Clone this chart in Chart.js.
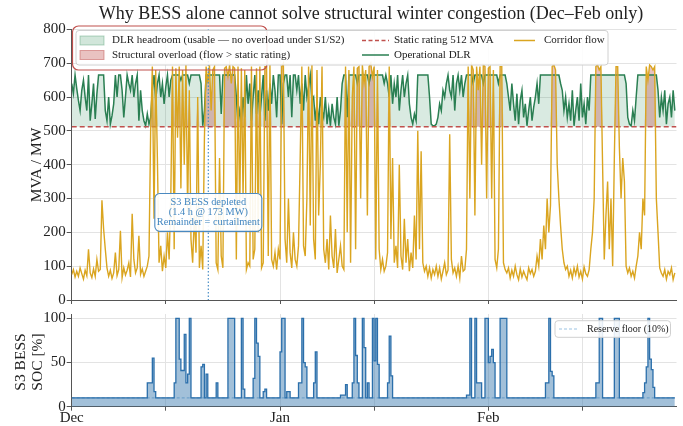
<!DOCTYPE html>
<html>
<head>
<title>BESS winter congestion</title>
<script src="https://cdn.jsdelivr.net/npm/chart.js"></script>
<style>
  body { margin: 0; background: #fff; }
  #wrap { position: relative; width: 683px; height: 426px; }
  #flowChart { position: absolute; left: 0; top: 0; }
  #socChart { position: absolute; left: 0; top: 304px; }
</style>
</head>
<body>
<div id="wrap">
  <canvas id="flowChart" width="683" height="310"></canvas>
  <canvas id="socChart" width="683" height="122"></canvas>
</div>
<script>
// one sample every 6 h, 1 Dec -> 28 Feb (x axis in days since 1 Dec)
var stepHours = 6;
var monthTicks = [0, 31, 62];
var monthLabels = ['Dec', 'Jan', 'Feb'];
var midMonthTicks = [14, 45, 76];
var staticRating = 512;   // MVA
var reserveFloor = 10;    // %
var depletedDay = 20.33;  // S3 BESS depleted marker

// corridor flow, MVA (4 values per day)
var corridorFlow = [
  75, 90, 68, 85,   70, 95, 78, 62,   88, 72, 150, 80,   66, 92, 70, 120,
  85, 90, 295, 210, 150, 95, 70, 88,  64, 80, 140, 72,   90, 205, 66, 95,
  74, 88, 110, 68,  255, 120, 80, 95, 190, 76, 92, 70,   85, 100, 130, 500,
  690, 240, 680, 420, 110, 160, 85, 130, 95, 200, 120, 310, 690, 150, 685, 480,
  690, 330, 680, 400, 695, 260, 620, 180, 110, 250, 140, 600, 95, 160, 90, 480,
  690, 640, 695, 560, 680, 690, 110, 90, 420, 130, 95, 685, 690, 660, 695, 640,
  690, 685, 120, 690, 250, 685, 300, 680, 90, 110, 100, 690, 120, 150, 685, 200,
  690, 95, 110, 690, 690, 130, 695, 120, 100, 140, 90, 150, 120, 690, 700, 180,
  110, 300, 140, 95, 200, 120, 100, 160, 420, 690, 160, 130, 300, 690, 220, 695,
  180, 120, 680, 250, 400, 690, 150, 110, 180, 90, 250, 130, 95, 210, 80, 120,
  160, 100, 90, 690, 200, 680, 110, 600, 690, 150, 685, 690, 300, 695, 640, 680,
  250, 690, 700, 660, 690, 120, 680, 150, 90, 120, 85, 100, 140, 690, 180, 420,
  110, 160, 95, 400, 130, 90, 240, 110, 180, 85, 140, 95, 250, 120, 500, 150,
  440, 110, 85, 100, 70, 95, 65, 90,  75, 100, 70, 95,   62, 85, 110, 75,
  88, 490, 120, 80, 95, 70, 100, 65,  130, 85, 90, 150,  690, 300, 695, 680,
  250, 690, 620, 690, 400, 695, 690, 300, 685, 690, 300, 680, 120, 95, 150, 690,
  690, 110, 90, 80, 95, 65, 88, 70,   100, 75, 60, 92,   68, 85, 72, 60,
  95, 78, 90, 70,   85, 130, 100, 180, 120, 220, 150, 300, 200, 280, 690, 695,
  680, 400, 300, 220, 150, 110, 90, 100, 70, 88, 65, 95, 75, 100, 68, 85,
  62, 98, 78, 70,   90, 150, 200, 300, 690, 695, 680, 690, 400, 120, 250, 350,
  150, 300, 100, 420, 690, 690, 450, 300, 420, 350, 100, 80, 95, 70, 85, 65,
  100, 130, 200, 150, 300, 250, 690, 650, 695, 690, 680, 690, 300, 200, 95, 80,
  70, 90, 62, 85,   75, 95, 60, 80
];

// operational dynamic line rating, MVA
var operationalDLR = [
  640, 610, 665, 625, 590, 560, 620, 650, 600, 560, 665, 530, 580, 640, 535, 610,
  665, 665, 665, 665, 560, 530, 600, 520, 545, 580, 665, 600, 665, 665, 620, 540,
  600, 665, 640, 620, 665, 600, 640, 665, 530, 620, 560, 530, 515, 550, 520, 540,
  620, 665, 590, 640, 665, 600, 640, 580, 630, 665, 600, 650, 665, 665, 665, 665,
  665, 650, 665, 665, 665, 665, 640, 665, 665, 665, 665, 665, 665, 640, 515, 560,
  665, 665, 665, 665, 665, 665, 665, 665, 665, 550, 665, 665, 665, 665, 665, 665,
  665, 665, 600, 520, 560, 530, 600, 540, 665, 580, 640, 530, 600, 665, 550, 620,
  540, 600, 665, 530, 620, 560, 640, 580, 665, 620, 540, 665, 665, 520, 640, 665,
  665, 600, 665, 540, 665, 665, 620, 665, 580, 640, 560, 665, 600, 630, 665, 590,
  600, 530, 580, 520, 600, 560, 540, 600, 520, 565, 515, 580, 540, 520, 600, 515,
  560, 640, 665, 665, 540, 665, 665, 665, 665, 665, 640, 665, 665, 665, 665, 665,
  665, 640, 665, 665, 665, 665, 665, 665, 665, 665, 640, 665, 640, 600, 665, 580,
  640, 600, 665, 560, 620, 665, 600, 640, 665, 580, 540, 520, 550, 530, 665, 665,
  665, 665, 665, 665, 665, 600, 520, 515, 515, 520, 540, 580, 560, 620, 600, 640,
  665, 620, 600, 665, 560, 640, 665, 620, 665, 600, 640, 665, 665, 665, 665, 640,
  665, 665, 665, 665, 665, 640, 665, 665, 665, 665, 665, 665, 665, 665, 640, 665,
  665, 665, 665, 640, 600, 560, 640, 580, 530, 610, 520, 590, 620, 540, 580, 515,
  560, 600, 530, 570, 600, 640, 580, 665, 665, 665, 665, 665, 665, 665, 665, 665,
  665, 665, 665, 640, 620, 560, 600, 540, 580, 530, 620, 515, 560, 600, 530, 640,
  540, 580, 520, 600, 560, 665, 665, 665, 665, 665, 665, 665, 665, 665, 665, 665,
  665, 665, 665, 665, 665, 665, 665, 665, 665, 665, 640, 540, 520, 515, 560, 530,
  600, 665, 665, 665, 665, 665, 665, 665, 665, 665, 665, 665, 665, 620, 540, 600,
  560, 620, 520, 580, 600, 540, 620, 560
];

// S3 BESS state of charge, %
var bessSoc = [
  10, 10, 10, 10,  10, 10, 10, 10,  10, 10, 10, 10,  10, 10, 10, 10,
  10, 10, 10, 10,  10, 10, 10, 10,  10, 10, 10, 10,  10, 10, 10, 10,
  10, 10, 10, 10,  10, 10, 10, 10,  10, 10, 10, 10,  10, 27, 27, 27,
  55, 17, 10, 10,  10, 10, 10, 10,  10, 10, 10, 10,  10, 27, 100, 100,
  54, 41, 41, 82,  27, 37, 100, 10, 10, 10, 10, 10,  10, 45, 48, 10,
  37, 10, 10, 10,  10, 10, 27, 10,  10, 10, 10, 10,  10, 100, 100, 100,
  100, 10, 10, 10, 10, 100, 20, 10, 10, 10, 10, 10,  32, 100, 72, 57,
  10, 10, 17, 20,  10, 10, 10, 10,  10, 10, 10, 10,  62, 100, 100, 10,
  17, 17, 10, 10,  10, 10, 10, 27,  27, 100, 50, 45, 10, 10, 10, 10,
  27, 62, 10, 10,  10, 10, 10, 10,  10, 10, 10, 10,  10, 10, 10, 10,
  13, 13, 13, 25,  10, 10, 10, 27,  100, 58, 27, 10, 10, 100, 67, 10,
  27, 10, 10, 100, 52, 100, 48, 10, 10, 10, 10, 10,  27, 80, 35, 10,
  10, 10, 10, 10,  10, 10, 10, 10,  10, 10, 10, 10,  10, 10, 10, 10,
  10, 10, 10, 10,  10, 10, 10, 10,  10, 10, 10, 10,  10, 10, 10, 10,
  10, 10, 10, 10,  10, 10, 10, 10,  10, 10, 10, 13,  13, 100, 10, 10,
  100, 27, 27, 27, 10, 10, 100, 100, 50, 57, 65, 50, 10, 10, 10, 100,
  100, 100, 100, 10, 10, 10, 10, 10, 10, 10, 10, 10,  10, 10, 10, 10,
  10, 10, 10, 10,  10, 10, 10, 10,  10, 10, 27, 27,  100, 40, 35, 10,
  10, 10, 10, 10,  10, 10, 10, 10,  10, 10, 10, 10,  10, 10, 10, 10,
  10, 10, 10, 10,  10, 10, 10, 10,  27, 27, 100, 100, 10, 10, 10, 10,
  10, 10, 10, 100, 100, 100, 10, 10, 10, 10, 10, 10, 10, 10, 10, 10,
  10, 10, 10, 10,  16, 27, 45, 100, 54, 42, 22, 10,  10, 10, 10, 10,
  10, 10, 10, 10,  10, 10, 10, 10
];

var serif = "'Liberation Serif', 'Times New Roman', serif";
Chart.defaults.font.family = serif;

var days = corridorFlow.map(function (v, i) { return i * stepHours / 24; });
function pts(arr) { return arr.map(function (v, i) { return { x: days[i], y: v }; }); }
var xTickValues = monthTicks.concat(midMonthTicks).sort(function (a, b) { return a - b; });

function xScale(showLabels, height) {
  return {
    type: 'linear', min: 0, max: 90,
    afterBuildTicks: function (s) { s.ticks = xTickValues.map(function (v) { return { value: v }; }); },
    ticks: {
      autoSkip: false, maxRotation: 0, padding: -2,
      font: { size: 15 }, color: '#222',
      callback: function (v) {
        var k = monthTicks.indexOf(v);
        return showLabels && k >= 0 ? monthLabels[k] : '';
      }
    },
    grid: { color: '#e3e3e3', lineWidth: 1, tickLength: 4, tickColor: '#555' },
    border: { color: '#555', width: 1 },
    afterFit: function (s) { s.height = height; }
  };
}

function yScale(max, tickList) {
  return {
    min: 0, max: max,
    afterBuildTicks: function (s) { s.ticks = tickList.map(function (v) { return { value: v }; }); },
    ticks: { font: { size: 15 }, color: '#222', padding: 1 },
    grid: { color: '#e3e3e3', lineWidth: 1, tickLength: 5, tickColor: '#555' },
    border: { color: '#555', width: 1 },
    afterFit: function (s) { s.width = 71.7; }
  };
}

var flowDecor = {
  id: 'flowDecor',
  afterDatasetsDraw: function (chart) {
    var ctx = chart.ctx, a = chart.chartArea, x = chart.scales.x, y = chart.scales.y;
    var px = x.getPixelForValue(depletedDay);
    ctx.save();
    ctx.strokeStyle = '#4a8ec6';
    ctx.lineWidth = 1.2;
    ctx.setLineDash([1.5, 2]);
    ctx.beginPath(); ctx.moveTo(px, a.top); ctx.lineTo(px, a.bottom); ctx.stroke();
    ctx.setLineDash([]);
    // annotation box
    var top = y.getPixelForValue(315), bot = y.getPixelForValue(203);
    ctx.fillStyle = 'rgba(255,255,255,0.92)';
    ctx.strokeStyle = '#4a89c0';
    ctx.lineWidth = 1.1;
    ctx.beginPath(); ctx.roundRect(px - 53.5, top, 107, bot - top, 5); ctx.fill(); ctx.stroke();
    ctx.fillStyle = '#3f84bf';
    ctx.font = '10.3px ' + serif;
    ctx.textAlign = 'center'; ctx.textBaseline = 'middle';
    ctx.fillText('S3 BESS depleted', px, top + 9);
    ctx.fillText('(1.4 h @ 173 MW)', px, top + 19.3);
    ctx.fillText('Remainder = curtailment', px, top + 29);
    ctx.restore();
  },
  afterDraw: function (chart) {
    var ctx = chart.ctx;
    ctx.save();
    // title
    ctx.fillStyle = '#222';
    ctx.font = '18px ' + serif;
    ctx.textAlign = 'center'; ctx.textBaseline = 'middle';
    ctx.fillText('Why BESS alone cannot solve structural winter congestion (Dec\u2013Feb only)', 371, 14);
    // y title
    ctx.save();
    ctx.translate(37, 165); ctx.rotate(-Math.PI / 2);
    ctx.font = '15.5px ' + serif;
    ctx.fillText('MVA / MW', 0, 0);
    ctx.restore();
    // red box behind the legend
    ctx.strokeStyle = '#c0504d'; ctx.lineWidth = 1.2;
    ctx.beginPath(); ctx.roundRect(72.5, 26, 194.5, 44, 6); ctx.stroke();
    // legend frame
    ctx.fillStyle = 'rgba(255,255,255,0.88)';
    ctx.strokeStyle = '#d0d0d0'; ctx.lineWidth = 1;
    ctx.beginPath(); ctx.roundRect(76, 30.5, 532, 34.5, 3); ctx.fill(); ctx.stroke();
    var r1 = 40.5, r2 = 55;
    ctx.fillStyle = 'rgba(46,139,87,0.22)'; ctx.strokeStyle = 'rgba(46,139,87,0.35)';
    ctx.fillRect(80, r1 - 4.5, 24, 9); ctx.strokeRect(80, r1 - 4.5, 24, 9);
    ctx.fillStyle = 'rgba(192,80,77,0.35)'; ctx.strokeStyle = 'rgba(192,80,77,0.5)';
    ctx.fillRect(80, r2 - 4.5, 24, 9); ctx.strokeRect(80, r2 - 4.5, 24, 9);
    function sample(x0, x1, yy, color, dash) {
      ctx.strokeStyle = color; ctx.lineWidth = 1.5; ctx.setLineDash(dash);
      ctx.beginPath(); ctx.moveTo(x0, yy); ctx.lineTo(x1, yy); ctx.stroke();
      ctx.setLineDash([]);
    }
    sample(362, 389, r1, '#c0504d', [4, 2.5]);
    sample(362, 389, r2, '#2a7f52', []);
    sample(514, 535, r1, '#daa520', []);
    ctx.fillStyle = '#222';
    ctx.font = '11px ' + serif;
    ctx.textAlign = 'left';
    ctx.fillText('DLR headroom (usable \u2014 no overload under S1/S2)', 112, r1);
    ctx.fillText('Structural overload (flow > static rating)', 112, r2);
    ctx.fillText('Static rating 512 MVA', 394, r1);
    ctx.fillText('Operational DLR', 394, r2);
    ctx.fillText('Corridor flow', 544, r1);
    ctx.restore();
  }
};

new Chart(document.getElementById('flowChart'), {
  type: 'line',
  data: {
    datasets: [
      { label: 'Corridor flow', data: pts(corridorFlow), borderColor: '#daa520', borderWidth: 1.4, pointRadius: 0, fill: false },
      { label: 'Static rating 512 MVA', data: [{ x: 0, y: staticRating }, { x: 90, y: staticRating }],
        borderColor: '#c0504d', borderDash: [5, 3], borderWidth: 1.5, pointRadius: 0, fill: false },
      { label: 'Operational DLR', data: pts(operationalDLR), borderColor: '#2a7f52', borderWidth: 1.5, pointRadius: 0, fill: false },
      { label: 'Structural overload', data: pts(corridorFlow.map(function (v) { return Math.max(v, staticRating); })),
        borderColor: 'rgba(0,0,0,0)', borderWidth: 1, pointRadius: 0,
        fill: { value: staticRating }, backgroundColor: 'rgba(192,80,77,0.35)' },
      { label: 'DLR headroom', data: pts(operationalDLR), borderColor: 'rgba(0,0,0,0)', borderWidth: 1, pointRadius: 0,
        fill: { value: staticRating }, backgroundColor: 'rgba(46,139,87,0.18)' }
    ]
  },
  options: {
    responsive: false, animation: false, events: [],
    layout: { padding: { top: 29.4, right: 6.5, bottom: 0, left: 0 } },
    plugins: { legend: { display: false }, tooltip: { enabled: false } },
    scales: { x: xScale(false, 9.3), y: yScale(800, [0, 100, 200, 300, 400, 500, 600, 700, 800]) }
  },
  plugins: [flowDecor]
});

var socDecor = {
  id: 'socDecor',
  afterDraw: function (chart) {
    var ctx = chart.ctx;
    ctx.save();
    ctx.fillStyle = '#222';
    ctx.font = '15.5px ' + serif;
    ctx.textAlign = 'center'; ctx.textBaseline = 'middle';
    ctx.save();
    ctx.translate(21, 58); ctx.rotate(-Math.PI / 2);
    ctx.fillText('S3 BESS', 0, 0);
    ctx.restore();
    ctx.save();
    ctx.translate(38, 58); ctx.rotate(-Math.PI / 2);
    ctx.fillText('SOC [%]', 0, 0);
    ctx.restore();
    // legend
    ctx.fillStyle = 'rgba(255,255,255,0.88)';
    ctx.strokeStyle = '#d0d0d0'; ctx.lineWidth = 1;
    ctx.beginPath(); ctx.roundRect(555, 16.7, 115.5, 16.6, 3); ctx.fill(); ctx.stroke();
    ctx.strokeStyle = '#9cc3e3'; ctx.lineWidth = 1.2; ctx.setLineDash([3, 2]);
    ctx.beginPath(); ctx.moveTo(559, 25); ctx.lineTo(579, 25); ctx.stroke();
    ctx.setLineDash([]);
    ctx.fillStyle = '#222';
    ctx.font = '10px ' + serif;
    ctx.textAlign = 'left';
    ctx.fillText('Reserve floor (10%)', 587, 25);
    ctx.restore();
  }
};

new Chart(document.getElementById('socChart'), {
  type: 'line',
  data: {
    datasets: [
      { label: 'SOC', data: pts(bessSoc), stepped: true, borderColor: '#2b6fab', borderWidth: 1.3, pointRadius: 0,
        fill: 'origin', backgroundColor: 'rgba(70,130,180,0.5)' },
      { label: 'Reserve floor (10%)', data: [{ x: 0, y: reserveFloor }, { x: 90, y: reserveFloor }],
        borderColor: '#9cc3e3', borderDash: [3, 2], borderWidth: 1.2, pointRadius: 0, fill: false }
    ]
  },
  options: {
    responsive: false, animation: false, events: [],
    layout: { padding: { top: 9.9, right: 6.5, bottom: 0, left: 0 } },
    plugins: { legend: { display: false }, tooltip: { enabled: false } },
    scales: { x: xScale(true, 19.3), y: yScale(105, [0, 50, 100]) }
  },
  plugins: [socDecor]
});
</script>
</body>
</html>
